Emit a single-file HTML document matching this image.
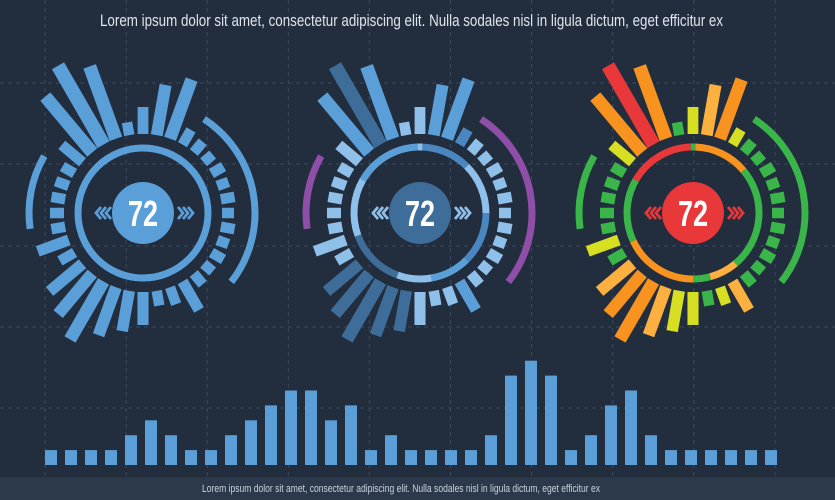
<!DOCTYPE html>
<html><head><meta charset="utf-8">
<style>
html,body{margin:0;padding:0;background:#222d3d;}
svg{display:block;}
</style></head>
<body>
<svg id="s" width="835" height="500" viewBox="0 0 835 500" xmlns="http://www.w3.org/2000/svg">
<rect width="835" height="500" fill="#222d3d"/>
<g id="grid" stroke="#3a4a5e" stroke-width="1" stroke-dasharray="4,4"></g>
<rect x="0" y="477" width="835" height="23" fill="#2b394b"/>
<text x="100" y="26" fill="#dfe6ee" font-family="'Liberation Sans Narrow','Liberation Sans',sans-serif" font-size="17" textLength="623" lengthAdjust="spacingAndGlyphs">Lorem ipsum dolor sit amet, consectetur adipiscing elit. Nulla sodales nisl in ligula dictum, eget efficitur ex</text>
<text x="202" y="492" fill="#c9d3de" font-family="'Liberation Sans Narrow','Liberation Sans',sans-serif" font-size="11" textLength="398" lengthAdjust="spacingAndGlyphs">Lorem ipsum dolor sit amet, consectetur adipiscing elit. Nulla sodales nisl in ligula dictum, eget efficitur ex</text>
<g id="g"></g>
</svg>
<script>
var NS="http://www.w3.org/2000/svg";
function el(p,t,a,txt){var e=document.createElementNS(NS,t);for(var k in a)e.setAttribute(k,a[k]);if(txt!=null)e.textContent=txt;p.appendChild(e);return e;}
var grid=document.getElementById('grid');
for(var i=0;i<10;i++){var x=45+i*81.1;el(grid,'line',{x1:x,y1:0,x2:x,y2:477});}
[83,164,246,327,408].forEach(function(y){el(grid,'line',{x1:0,y1:y,x2:835,y2:y});});
var g=document.getElementById('g');
var lv=[1,1,1,1,2,3,2,1,1,2,3,4,5,5,3,4,1,2,1,1,1,1,2,6,7,6,1,2,4,5,2,1,1,1,1,1,1];
lv.forEach(function(v,i){var h=v*14.9;el(g,'rect',{x:45+i*20,y:465-h,width:12,height:h,fill:'#5b9fd8'});});
var outer={0:106,10:130,20:142,30:96,150:112,160:97,170:94,180:112,190:120,200:130,210:146,220:132,230:122,240:96,250:112,260:93,270:93,280:93,290:93,300:93,310:106,320:152,330:170,340:156,350:92};
function pt(cx,cy,r,a){var t=(a-90)*Math.PI/180;return [cx+r*Math.cos(t),cy+r*Math.sin(t)];}
function arc(cx,cy,r,a1,a2,col,w){var p1=pt(cx,cy,r,a1),p2=pt(cx,cy,r,a2);var large=(a2-a1)>180?1:0;
el(g,'path',{d:'M'+p1[0]+' '+p1[1]+' A'+r+' '+r+' 0 '+large+' 1 '+p2[0]+' '+p2[1],fill:'none',stroke:col,'stroke-width':w});}
var R='#e8383a',O='#f7931e',L='#fbb040',Y='#d7df23',G='#39b54a';
var c3={0:Y,10:L,20:O,30:Y,150:L,160:Y,170:G,180:Y,190:Y,200:L,210:O,220:O,230:L,240:G,250:Y,260:G,270:G,280:G,290:G,300:G,310:Y,320:O,330:R,340:O,350:G};
var B1='#5b9fd8',B2='#3f6d99',B3='#8fc0ea',B4='#4a86bf';
var c2={0:B3,10:B1,20:B1,30:B4,150:B1,160:B3,170:B3,180:B3,190:B2,200:B2,210:B2,220:B2,230:B2,240:B3,250:B3,260:B3,270:B3,280:B3,290:B3,300:B3,310:B3,320:B1,330:B2,340:B1,350:B3};
function gauge(cx,cy,mode){
 for(var a=0;a<360;a+=10){
  var ro=outer[a]||(a%20?91:93);
  var col=mode==0?B1:(mode==1?(c2[a]||B3):(c3[a]||G));
  var p1=pt(cx,cy,79,a),p2=pt(cx,cy,ro,a);
  var w=10.5+Math.max(0,ro-100)*0.05;
  el(g,'line',{x1:p1[0],y1:p1[1],x2:p2[0],y2:p2[1],stroke:col,'stroke-width':w});
 }
 var ac=mode==0?B1:(mode==1?'#8f4fa8':G);
 arc(cx,cy,112,33,128,ac,7);
 arc(cx,cy,114,262,300,ac,7);
 if(mode==0){el(g,'circle',{cx:cx,cy:cy,r:65,fill:'none',stroke:B1,'stroke-width':7});}
 else if(mode==1){var segs=[[0,45,B4],[45,90,B3],[90,135,B4],[135,170,B1],[170,200,B3],[200,250,B2],[250,300,B3],[300,358,B1],[358,362,B3]];
  segs.forEach(function(s){arc(cx,cy,66,s[0],s[1],s[2],7);});}
 else {var segs=[[-2,2,G],[2,50,O],[50,140,G],[140,165,L],[165,180,G],[180,245,O],[245,300,G],[300,358,R]];
  segs.forEach(function(s){arc(cx,cy,66,s[0]<0?s[0]+360:s[0],s[0]<0?s[1]+360:s[1],s[2],7);});}
 var cc=mode==0?B1:(mode==1?B2:R);
 el(g,'circle',{cx:cx,cy:cy,r:31,fill:cc});
 el(g,'text',{x:cx-15,y:cy+13,fill:'#fff','font-family':"'Liberation Sans Narrow','Liberation Sans',sans-serif",'font-weight':'bold','font-size':36,textLength:30,lengthAdjust:'spacingAndGlyphs'},'72');
 var chc=mode==2?R:(mode==1?B3:B1);
 for(var k=0;k<3;k++){
  var xl=cx-47+k*5; el(g,'polyline',{points:(xl+5)+','+(cy-6)+' '+xl+','+cy+' '+(xl+5)+','+(cy+6),fill:'none',stroke:chc,'stroke-width':2.8});
  var xr=cx+35+k*5; el(g,'polyline',{points:xr+','+(cy-6)+' '+(xr+5)+','+cy+' '+xr+','+(cy+6),fill:'none',stroke:chc,'stroke-width':2.8});
 }
}
gauge(143,213,0);gauge(420,213,1);gauge(693,213,2);
</script>
</body></html>
